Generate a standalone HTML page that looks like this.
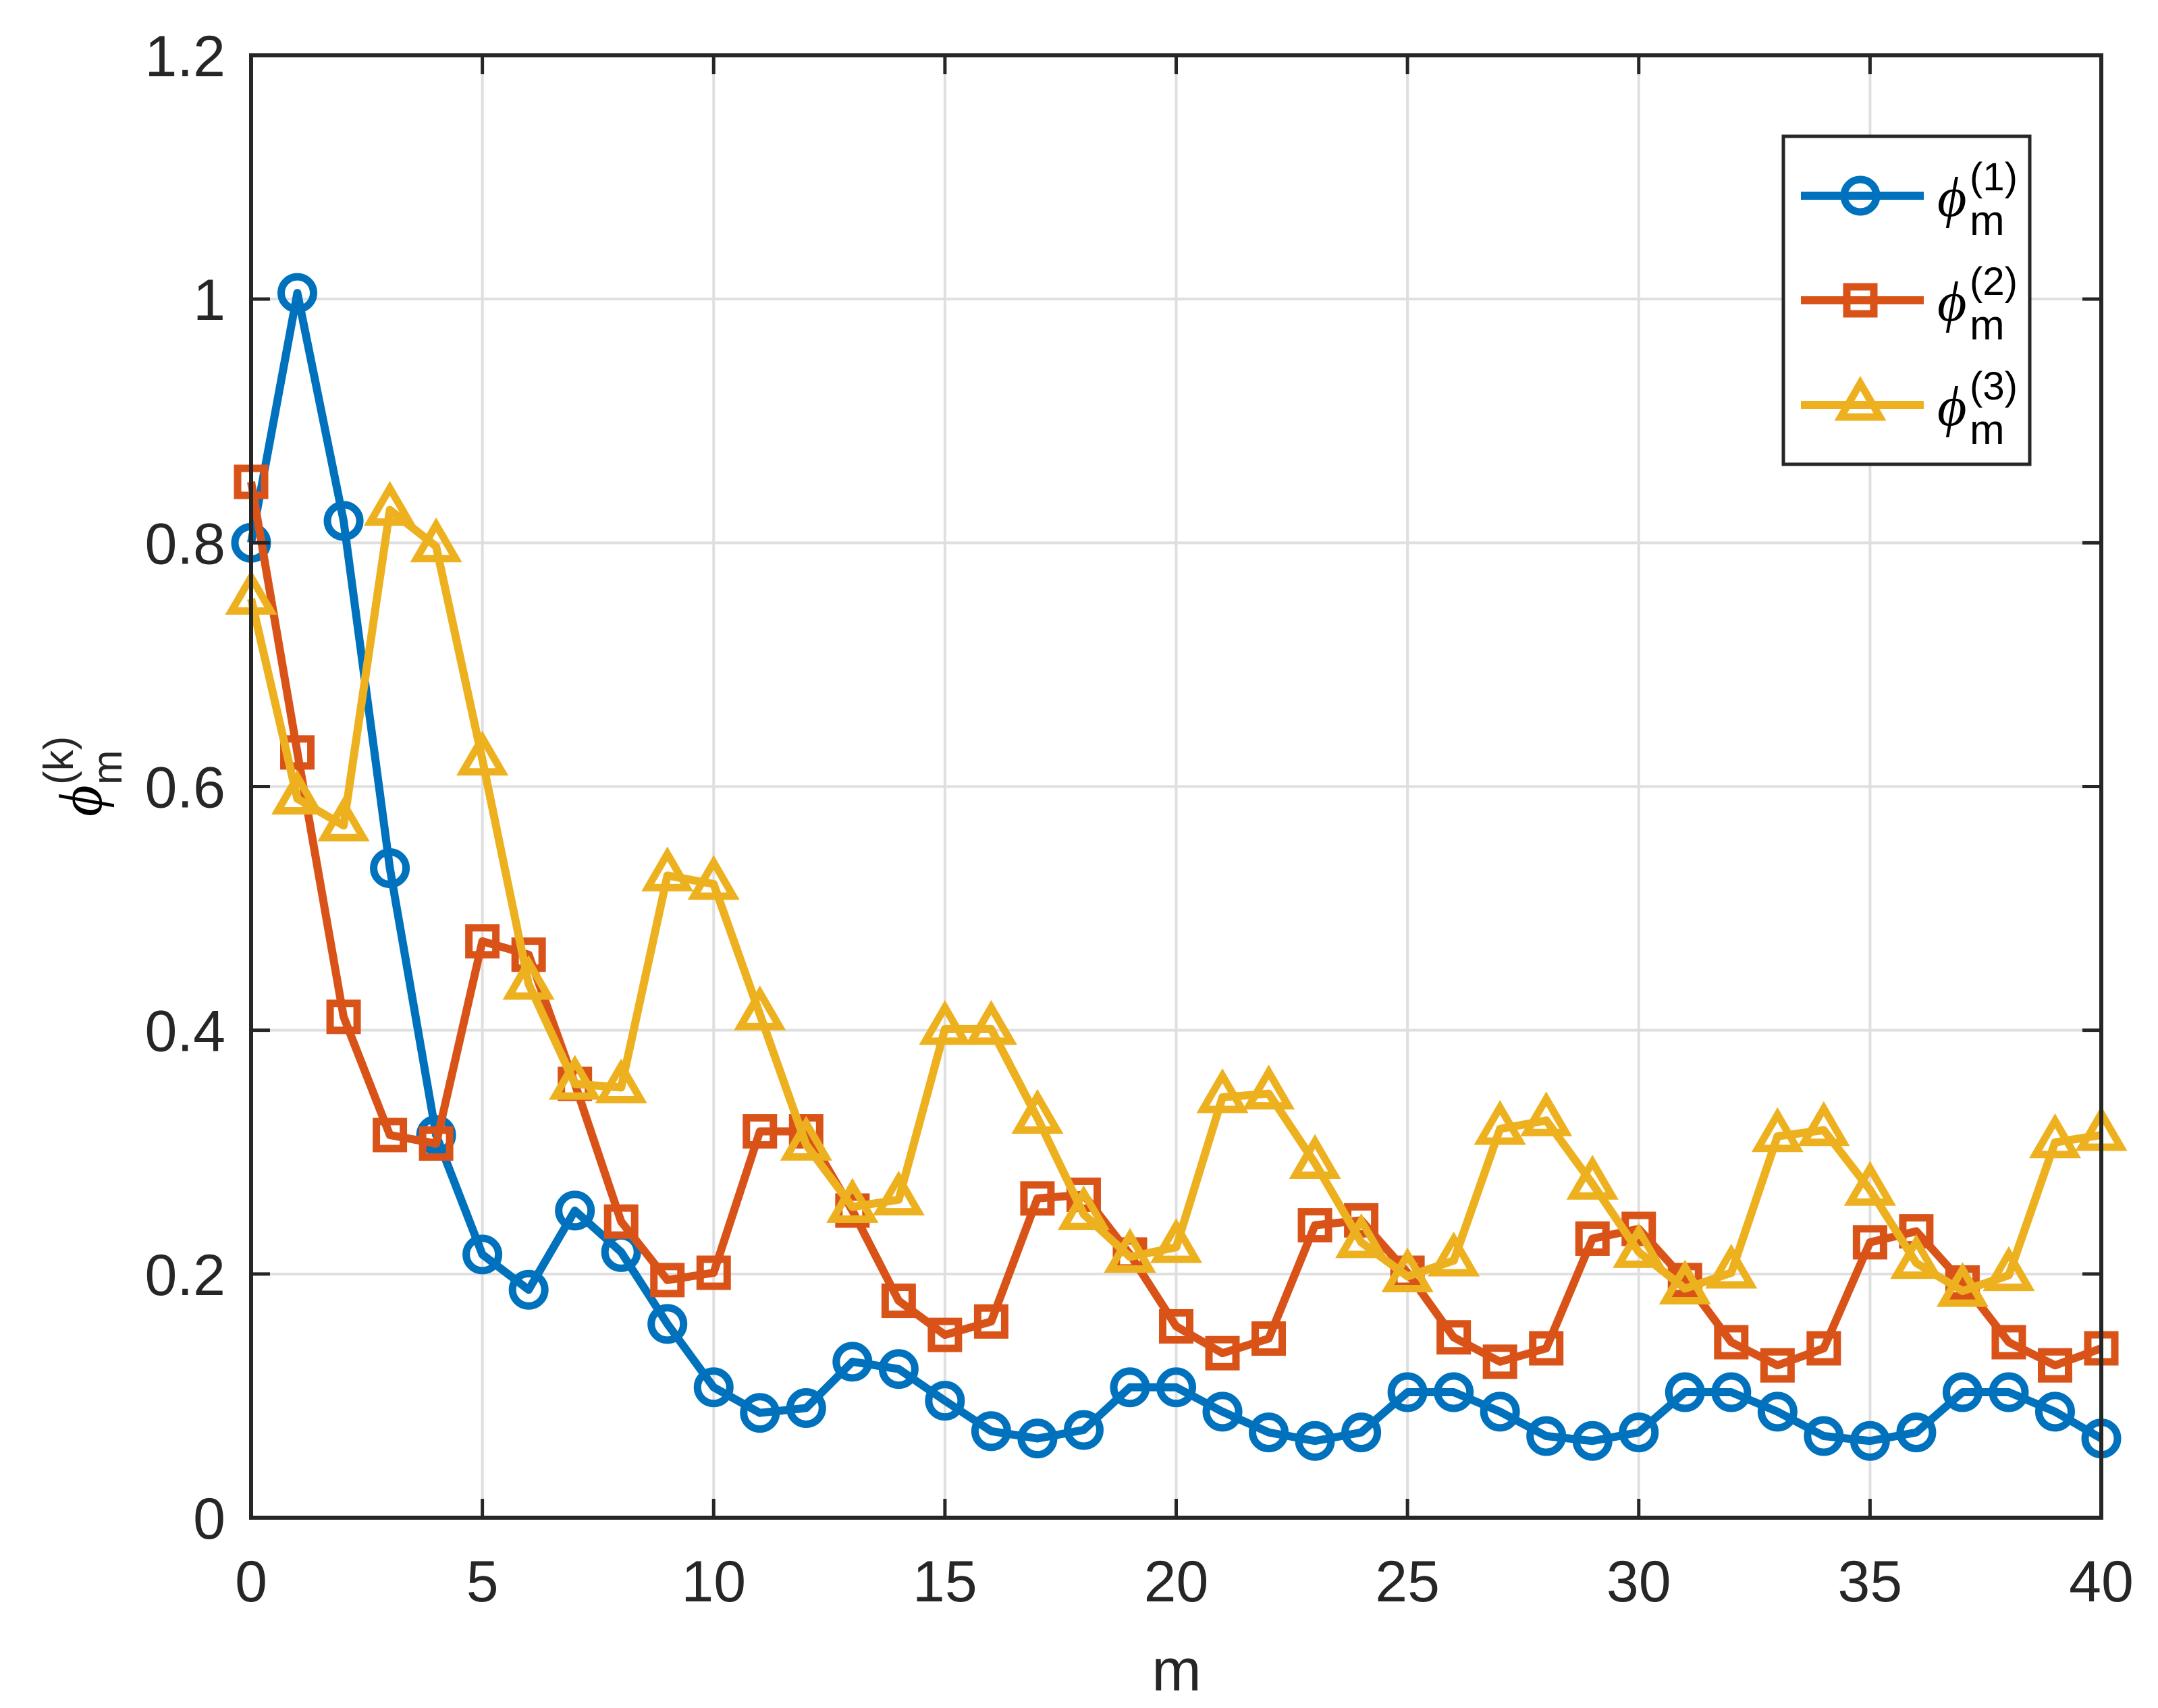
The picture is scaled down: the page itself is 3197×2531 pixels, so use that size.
<!DOCTYPE html>
<html><head><meta charset="utf-8"><style>
html,body{margin:0;padding:0;background:#fff;}
svg{display:block;}
text{font-family:"Liberation Sans",sans-serif;fill:#262626;}
.phi{font-family:"Liberation Serif",serif;font-style:italic;fill:#000;}
</style></head><body>
<svg id="chart" width="3197" height="2531" viewBox="0 0 3197 2531" xmlns="http://www.w3.org/2000/svg">
<g id="grid"></g>
<g id="series"></g>
<rect x="372" y="82" width="2741" height="2167" fill="none" stroke="#262626" stroke-width="6"/>
<g id="ticks"></g>
<text x="1743" y="2505" font-size="88" text-anchor="middle">m</text>
<g transform="translate(150,1165) rotate(-90)">
  <text class="phi" x="-45" y="0" font-size="90">ϕ</text>
  <text x="2" y="-42" font-size="62" fill="#000">(k)</text>
  <text x="2" y="30" font-size="62" fill="#000">m</text>
</g>
<g id="legend">
  <rect x="2642" y="202" width="365" height="486" fill="#fff" stroke="#262626" stroke-width="5"/>
</g>
<script>
const categories = Array.from({length:41},(_,i)=>i);
const series1 = [0.80,1.005,0.818,0.533,0.314,0.216,0.187,0.252,0.218,0.159,0.107,0.086,0.09,0.128,0.122,0.096,0.071,0.065,0.072,0.107,0.107,0.087,0.07,0.063,0.07,0.103,0.103,0.087,0.067,0.063,0.07,0.103,0.103,0.087,0.067,0.063,0.07,0.103,0.103,0.087,0.065];
const series2 = [0.85,0.628,0.411,0.314,0.307,0.473,0.462,0.356,0.243,0.195,0.201,0.317,0.317,0.252,0.178,0.150,0.161,0.262,0.265,0.216,0.157,0.135,0.147,0.240,0.244,0.201,0.148,0.128,0.139,0.229,0.237,0.195,0.144,0.125,0.139,0.226,0.235,0.193,0.144,0.125,0.139];
const series3 = [0.754,0.590,0.568,0.827,0.797,0.622,0.438,0.356,0.353,0.527,0.520,0.413,0.306,0.255,0.261,0.401,0.401,0.328,0.249,0.214,0.222,0.345,0.348,0.291,0.226,0.198,0.211,0.319,0.326,0.274,0.218,0.188,0.201,0.313,0.318,0.269,0.209,0.186,0.199,0.308,0.314];
const xTicks = [0,5,10,15,20,25,30,35,40];
const yTicks = [0,0.2,0.4,0.6,0.8,1,1.2];
const yTickLabels = ["0","0.2","0.4","0.6","0.8","1","1.2"];
const legendLabels = ["(1)","(2)","(3)"];

const NS="http://www.w3.org/2000/svg";
const X0=372,X1=3113,Y0=2249,Y1=82;
const xs=v=>X0+(v-0)/(40-0)*(X1-X0);
const ys=v=>Y0-(v-0)/(1.2-0)*(Y0-Y1);
function mk(tag,attrs,parent){const e=document.createElementNS(NS,tag);for(const k in attrs)e.setAttribute(k,attrs[k]);parent.appendChild(e);return e;}
const grid=document.getElementById('grid'),ticks=document.getElementById('ticks'),ser=document.getElementById('series'),leg=document.getElementById('legend');
xTicks.forEach(t=>{
  const g=mk('line',{x1:xs(t),x2:xs(t),y1:Y1,y2:Y0,stroke:'#dfdfdf','stroke-width':4},grid);
  
  
  const a=mk('line',{x1:xs(t),x2:xs(t),y1:Y0,y2:Y0-28,stroke:'#262626','stroke-width':5},ticks);
  
  
  const b=mk('line',{x1:xs(t),x2:xs(t),y1:Y1,y2:Y1+28,stroke:'#262626','stroke-width':5},ticks);
  
  
  const tx=mk('text',{x:xs(t),y:2373,'font-size':86,'text-anchor':'middle'},ticks);
  tx.textContent=String(t);
  
  
});
yTicks.forEach((t,i)=>{
  const g=mk('line',{x1:X0,x2:X1,y1:ys(t),y2:ys(t),stroke:'#dfdfdf','stroke-width':4},grid);
  
  
  const a=mk('line',{x1:X0,x2:X0+28,y1:ys(t),y2:ys(t),stroke:'#262626','stroke-width':5},ticks);
  
  
  const b=mk('line',{x1:X1,x2:X1-28,y1:ys(t),y2:ys(t),stroke:'#262626','stroke-width':5},ticks);
  
  
  const tx=mk('text',{x:334,y:ys(t)+31,'font-size':86,'text-anchor':'end'},ticks);
  tx.textContent=yTickLabels[i];
  
  
});
function marker(type,cx,cy,color,parent){
  let e;
  if(type==='o') e=mk('circle',{cx:cx,cy:cy,r:24,fill:'none',stroke:color,'stroke-width':11},parent);
  else if(type==='s') e=mk('rect',{x:cx-20,y:cy-20,width:40,height:40,fill:'none',stroke:color,'stroke-width':11},parent);
  else e=mk('polygon',{points:`${cx},${cy-32} ${cx+29},${cy+18} ${cx-29},${cy+18}`,fill:'none',stroke:color,'stroke-width':11},parent);
  return e;
}
const defs=[[series1,'#0072BD','o'],[series2,'#D95319','s'],[series3,'#EDB120','^']];
defs.forEach(([vals,color,type],si)=>{
  const g=mk('g',{},ser);
  
  
  const pl=mk('polyline',{points:vals.map((v,i)=>xs(categories[i])+','+ys(v)).join(' '),fill:'none',stroke:color,'stroke-width':12,'stroke-linejoin':'round'},g);
  
  
  vals.forEach((v,i)=>{
    const m=marker(type,xs(categories[i]),ys(v),color,g);
    
    
  });
  const ly=290+si*155;
  const le=mk('g',{},leg);
  
  
  mk('line',{x1:2668,x2:2850,y1:ly,y2:ly,stroke:color,'stroke-width':12},le);
  marker(type,2756,ly,color,le);
  const p=mk('text',{x:2870,y:ly+30,'font-size':84,class:'phi'},le);
  p.textContent='ϕ';
  const sup=mk('text',{x:2918,y:ly-8,'font-size':58,fill:'#000'},le);
  sup.textContent=legendLabels[si];
  sup.setAttribute('style','fill:#000');
  const sub=mk('text',{x:2918,y:ly+58,'font-size':62},le);
  sub.textContent='m';
  sub.setAttribute('style','fill:#000');
});
</script>
</svg>
</body></html>
